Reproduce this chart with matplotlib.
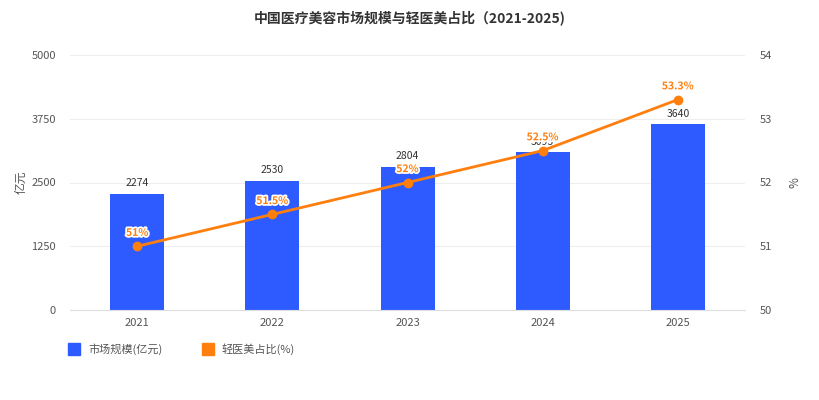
import numpy as np
import matplotlib.pyplot as plt
import matplotlib.patheffects as pe
from matplotlib.lines import Line2D

plt.rcParams['font.family'] = ['Noto Sans CJK SC', 'DejaVu Sans']

years = ["2021", "2022", "2023", "2024", "2025"]
market = [2274, 2530, 2804, 3093, 3640]
light_share = [51, 51.5, 52, 52.5, 53.3]
share_labels = ["51%", "51.5%", "52%", "52.5%", "53.3%"]

blue = "#2e5bff"
orange = "#ff7f0e"
txt = "#555555"

fig = plt.figure(figsize=(8.2, 4), dpi=100)
ax = fig.add_axes([0.085, 0.225, 0.824, 0.6375])
ax2 = ax.twinx()

x = np.arange(len(years))
ax.bar(x, market, width=0.4, color=blue, zorder=2)
for xi, v in zip(x, market):
    ax.annotate(str(v), (xi, v), xytext=(0, 4), textcoords="offset points",
                ha="center", va="bottom", fontsize=7.5, color="#333333", zorder=3)

ax.set_ylim(0, 5000)
ax.set_yticks([0, 1250, 2500, 3750, 5000])
ax.set_xlim(-0.5, len(years) - 0.5)
ax.set_xticks(x)
ax.set_xticklabels(years)
ax.grid(axis="y", color="#eeeeee", linewidth=0.8, zorder=0)
ax.set_axisbelow(True)
ax.set_ylabel("亿元", color=txt, fontsize=8.5)
ax.yaxis.set_label_coords(-0.062, 0.5)

ax2.plot(x, light_share, color=orange, linewidth=2, marker="o", markersize=6, zorder=5)
for xi, v, lab in zip(x, light_share, share_labels):
    ax2.annotate(lab, (xi, v), xytext=(0, 6), textcoords="offset points",
                 ha="center", va="bottom", fontsize=7.5, color=orange, fontweight="bold",
                 path_effects=[pe.withStroke(linewidth=2.5, foreground="white")], zorder=6)
ax2.set_ylim(50, 54)
ax2.set_yticks([50, 51, 52, 53, 54])
ax2.set_ylabel("%", color=txt, fontsize=8.5, labelpad=12)

for a in (ax, ax2):
    for s in a.spines.values():
        s.set_visible(False)
    a.tick_params(length=0, labelsize=8, colors=txt, pad=10)
ax.spines["bottom"].set_visible(True)
ax.spines["bottom"].set_color("#dddddd")
ax.tick_params(axis="x", pad=6)

fig.text(0.5, 0.955, "中国医疗美容市场规模与轻医美占比（2021-2025)", ha="center", va="center",
         fontsize=10, fontweight="bold", color="#333333")

handles = [
    Line2D([], [], marker="s", linestyle="none", markersize=9, color=blue),
    Line2D([], [], marker="s", linestyle="none", markersize=9, color=orange),
]
fig.legend(handles, ["市场规模(亿元)", "轻医美占比(%)"], loc="center left",
           bbox_to_anchor=(0.065, 0.127), ncol=2, frameon=False, fontsize=8,
           handletextpad=0.3, columnspacing=3.0, labelcolor=txt)

fig.savefig("out.png", dpi=100)
